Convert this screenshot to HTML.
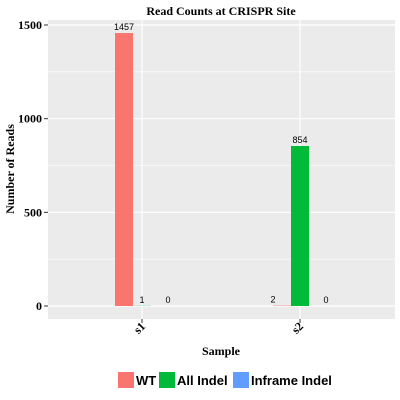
<!DOCTYPE html>
<html><head><meta charset="utf-8"><style>body{margin:0;background:#fff}svg{display:block}</style></head>
<body>
<svg id="c" width="400" height="400" xmlns="http://www.w3.org/2000/svg"></svg>
<script>
const categories = ["s1", "s2"];
const seriesNames = ["WT", "All Indel", "Inframe Indel"];
const wtValues = [1457, 2];
const allIndelValues = [1, 854];
const inframeValues = [0, 0];
const yTicks = [0, 500, 1000, 1500];

const NS = "http://www.w3.org/2000/svg";
const svg = document.getElementById("c");
const colors = ["#F8766D", "#00BA38", "#619CFF"];
const L = 48, R = 395, T = 20, B = 319;
const y = v => 306 - v * (281 / 1500);
const xc = i => 142 + i * 158;
const offsets = [-18, 0, 26];
function el(tag, attrs, parent) {
  const e = document.createElementNS(NS, tag);
  for (const k in attrs) e.setAttribute(k, attrs[k]);
  (parent || svg).appendChild(e);
  return e;
}
const panel = el("rect", {x: L, y: T, width: R - L, height: B - T, fill: "#EBEBEB"});


for (let i = 0; i < yTicks.length - 1; i++) {
  const m = (yTicks[i] + yTicks[i + 1]) / 2;
  el("line", {x1: L, x2: R, y1: y(m), y2: y(m), stroke: "#fff", "stroke-width": 0.6});
}
yTicks.forEach(t => {
  const g = el("line", {x1: L, x2: R, y1: y(t), y2: y(t), stroke: "#fff", "stroke-width": 1.2});
  
  
  el("line", {x1: 44, x2: L, y1: y(t), y2: y(t), stroke: "#333", "stroke-width": 1});
  const tx = el("text", {x: 42, y: y(t) + 4, "text-anchor": "end", "font-family": "Liberation Serif, serif", "font-weight": "bold", "font-size": 12, fill: "#000"});
  tx.textContent = t;
  
  
});
categories.forEach((c, i) => {
  el("line", {x1: xc(i), x2: xc(i), y1: T, y2: B, stroke: "#fff", "stroke-width": 1.2});
  el("line", {x1: xc(i), x2: xc(i), y1: B, y2: B + 4, stroke: "#333", "stroke-width": 1});
  const tx = el("text", {x: 0, y: 0, "text-anchor": "end", "font-family": "Liberation Serif, serif", "font-weight": "bold", "font-size": 12, fill: "#000", transform: `translate(${xc(i) + 4},${B + 8}) rotate(-45)`});
  tx.textContent = c;
  
  
});
const series = [wtValues, allIndelValues, inframeValues];
series.forEach((vals, s) => {
  vals.forEach((v, i) => {
    const cx = xc(i) + offsets[s];
    const r = el("rect", {x: cx - 9, y: y(v), width: 18, height: y(0) - y(v), fill: colors[s]});
    
    
    const lx = (s === 0 && v < 100) ? xc(i) - 27 : cx;
    const tx = el("text", {x: lx, y: y(v) - 3, "text-anchor": "middle", "font-family": "Liberation Sans, sans-serif", "font-size": 9, fill: "#000"});
    tx.textContent = v;
    
    
  });
});
const title = el("text", {x: 221, y: 15, "text-anchor": "middle", "font-family": "Liberation Serif, serif", "font-weight": "bold", "font-size": 12});
title.textContent = "Read Counts at CRISPR Site";


const xt = el("text", {x: 221, y: 355, "text-anchor": "middle", "font-family": "Liberation Serif, serif", "font-weight": "bold", "font-size": 12});
xt.textContent = "Sample";


const yt = el("text", {x: 0, y: 0, "text-anchor": "middle", "font-family": "Liberation Serif, serif", "font-weight": "bold", "font-size": 12, transform: "translate(14,169) rotate(-90)"});
yt.textContent = "Number of Reads";


const legX = [118, 159, 233];
seriesNames.forEach((n, s) => {
  const k = el("rect", {x: legX[s], y: 372, width: 16, height: 16, fill: colors[s]});
  
  
  const tx = el("text", {x: legX[s] + 18, y: 385, "font-family": "Liberation Sans, sans-serif", "font-weight": "bold", "font-size": 13});
  tx.textContent = n;
  
  
});
</script>
</body></html>
